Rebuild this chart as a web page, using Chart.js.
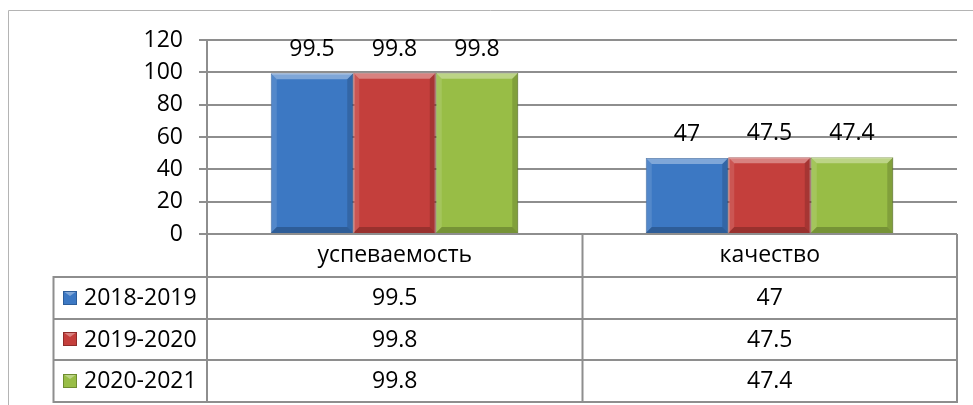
<!DOCTYPE html>
<html>
<head>
<meta charset="utf-8">
<script src="https://cdn.jsdelivr.net/npm/chart.js@4.4.0/dist/chart.umd.min.js"></script>
<style>
  html, body { margin: 0; padding: 0; background: #fff; }
</style>
</head>
<body>
<canvas id="chart" width="973" height="405"></canvas>
<script>
const categories = ['успеваемость', 'качество'];
const seriesNames = ['2018-2019', '2019-2020', '2020-2021'];
const values2018 = [99.5, 47];
const values2019 = [99.8, 47.5];
const values2020 = [99.8, 47.4];
const yTicks = [0, 20, 40, 60, 80, 100, 120];

const fills = ['#3c78c3', '#c43f3c', '#98bd46'];
const edges = ['#2d5d9a', '#8f2c2a', '#6e8c30'];
const lineGray = '#8e8e8e';
const fontFamily = "'Open Sans', sans-serif";
const fontSize = 23;

Chart.defaults.font.family = fontFamily;
Chart.defaults.font.size = fontSize;
Chart.defaults.color = '#000';

// outer frame of the chart object
const framePlugin = {
    id: 'frame',
    beforeDraw(chart) {
        const ctx = chart.ctx;
        ctx.save();
        ctx.strokeStyle = '#b4b4b4';
        ctx.lineWidth = 1;
        ctx.beginPath();
        ctx.moveTo(8.5, chart.height);
        ctx.lineTo(8.5, 10.5);
        ctx.lineTo(chart.width, 10.5);
        ctx.stroke();
        ctx.restore();
    }
};

// bevel look on the bars, labels above them
const barExtras = {
    id: 'barExtras',
    afterDatasetsDraw(chart) {
        const ctx = chart.ctx;
        ctx.save();
        chart.data.datasets.forEach((ds, i) => {
            const meta = chart.getDatasetMeta(i);
            meta.data.forEach((bar, j) => {
                const l = bar.x - bar.width / 2, r = bar.x + bar.width / 2;
                const t = bar.y, b = bar.base, e = 6;
                ctx.fillStyle = 'rgba(255,255,255,0.35)';
                ctx.beginPath();
                ctx.moveTo(l, t); ctx.lineTo(r, t); ctx.lineTo(r - e, t + e); ctx.lineTo(l + e, t + e);
                ctx.closePath(); ctx.fill();
                ctx.fillStyle = 'rgba(255,255,255,0.12)';
                ctx.beginPath();
                ctx.moveTo(l, t); ctx.lineTo(l + e, t + e); ctx.lineTo(l + e, b - e); ctx.lineTo(l, b);
                ctx.closePath(); ctx.fill();
                ctx.fillStyle = 'rgba(0,0,0,0.15)';
                ctx.beginPath();
                ctx.moveTo(r, t); ctx.lineTo(r - e, t + e); ctx.lineTo(r - e, b - e); ctx.lineTo(r, b);
                ctx.closePath(); ctx.fill();
                ctx.fillStyle = 'rgba(0,0,0,0.22)';
                ctx.beginPath();
                ctx.moveTo(l, b); ctx.lineTo(l + e, b - e); ctx.lineTo(r - e, b - e); ctx.lineTo(r, b);
                ctx.closePath(); ctx.fill();

                ctx.fillStyle = '#000';
                ctx.font = fontSize + 'px ' + fontFamily;
                ctx.textAlign = 'center';
                ctx.textBaseline = 'alphabetic';
                ctx.fillText(String(ds.data[j]), bar.x, t - 17);
            });
        });
        ctx.restore();
    }
};

// data table under the plot, with legend keys in the first column
const dataTable = {
    id: 'dataTable',
    afterDraw(chart) {
        const ctx = chart.ctx;
        const area = chart.chartArea;
        const xs = chart.scales.x;
        const headerH = 43, rowH = 41.5, leftX = 53.5;
        const top = area.bottom;
        const bottom = top + headerH + rowH * seriesNames.length;
        const bounds = [area.left];
        for (let i = 0; i < categories.length - 1; i++) {
            bounds.push(Math.round((xs.getPixelForValue(i) + xs.getPixelForValue(i + 1)) / 2) + 0.5);
        }
        bounds.push(area.right);

        ctx.save();
        ctx.strokeStyle = lineGray;
        ctx.lineWidth = 2;
        ctx.beginPath();
        bounds.forEach(x => { ctx.moveTo(x, top); ctx.lineTo(x, bottom); });
        ctx.moveTo(leftX, top + headerH); ctx.lineTo(leftX, bottom);
        for (let r = 0; r <= seriesNames.length; r++) {
            const y = Math.round(top + headerH + r * rowH);
            ctx.moveTo(leftX - 1, y); ctx.lineTo(area.right + 1, y);
        }
        ctx.stroke();

        ctx.fillStyle = '#000';
        ctx.font = fontSize + 'px ' + fontFamily;
        ctx.textAlign = 'center';
        ctx.textBaseline = 'middle';
        categories.forEach((c, i) => {
            ctx.fillText(c, (bounds[i] + bounds[i + 1]) / 2, top + headerH / 2);
        });

        chart.data.datasets.forEach((ds, r) => {
            const cy = top + headerH + r * rowH + rowH / 2;
            // legend key
            const k = 14, kx = 63, ky = Math.round(cy - k / 2);
            ctx.fillStyle = fills[r];
            ctx.fillRect(kx, ky, k, k);
            ctx.fillStyle = 'rgba(255,255,255,0.35)';
            ctx.beginPath();
            ctx.moveTo(kx, ky); ctx.lineTo(kx + k, ky); ctx.lineTo(kx + k / 2, ky + 5);
            ctx.closePath(); ctx.fill();
            ctx.strokeStyle = edges[r];
            ctx.lineWidth = 1;
            ctx.strokeRect(kx + 0.5, ky + 0.5, k - 1, k - 1);

            ctx.fillStyle = '#000';
            ctx.textAlign = 'left';
            ctx.fillText(ds.label, 84, cy + 1);
            ctx.textAlign = 'center';
            ds.data.forEach((v, i) => {
                ctx.fillText(String(v), (bounds[i] + bounds[i + 1]) / 2, cy + 1);
            });
        });
        ctx.restore();
    }
};

const seriesValues = [values2018, values2019, values2020];

new Chart(document.getElementById('chart'), {
    type: 'bar',
    data: {
        labels: categories,
        datasets: seriesNames.map((name, i) => ({
            label: name,
            data: seriesValues[i],
            backgroundColor: fills[i],
            borderColor: edges[i],
            borderWidth: 1,
            categoryPercentage: 0.66,
            barPercentage: 1.0
        }))
    },
    options: {
        responsive: false,
        animation: false,
        layout: { padding: { top: 40, right: 16, bottom: 171, left: 0 } },
        plugins: {
            legend: { display: false },
            tooltip: { enabled: false }
        },
        scales: {
            x: { display: false },
            y: {
                min: 0,
                max: 120,
                afterFit(scale) { scale.width = 207; },
                afterBuildTicks(scale) { scale.ticks = yTicks.map(v => ({ value: v })); },
                ticks: { padding: 16, color: '#000', font: { size: fontSize } },
                grid: { color: lineGray, lineWidth: 2, tickLength: 8 },
                border: { color: lineGray, width: 2 }
            }
        }
    },
    plugins: [framePlugin, barExtras, dataTable]
});
</script>
</body>
</html>
